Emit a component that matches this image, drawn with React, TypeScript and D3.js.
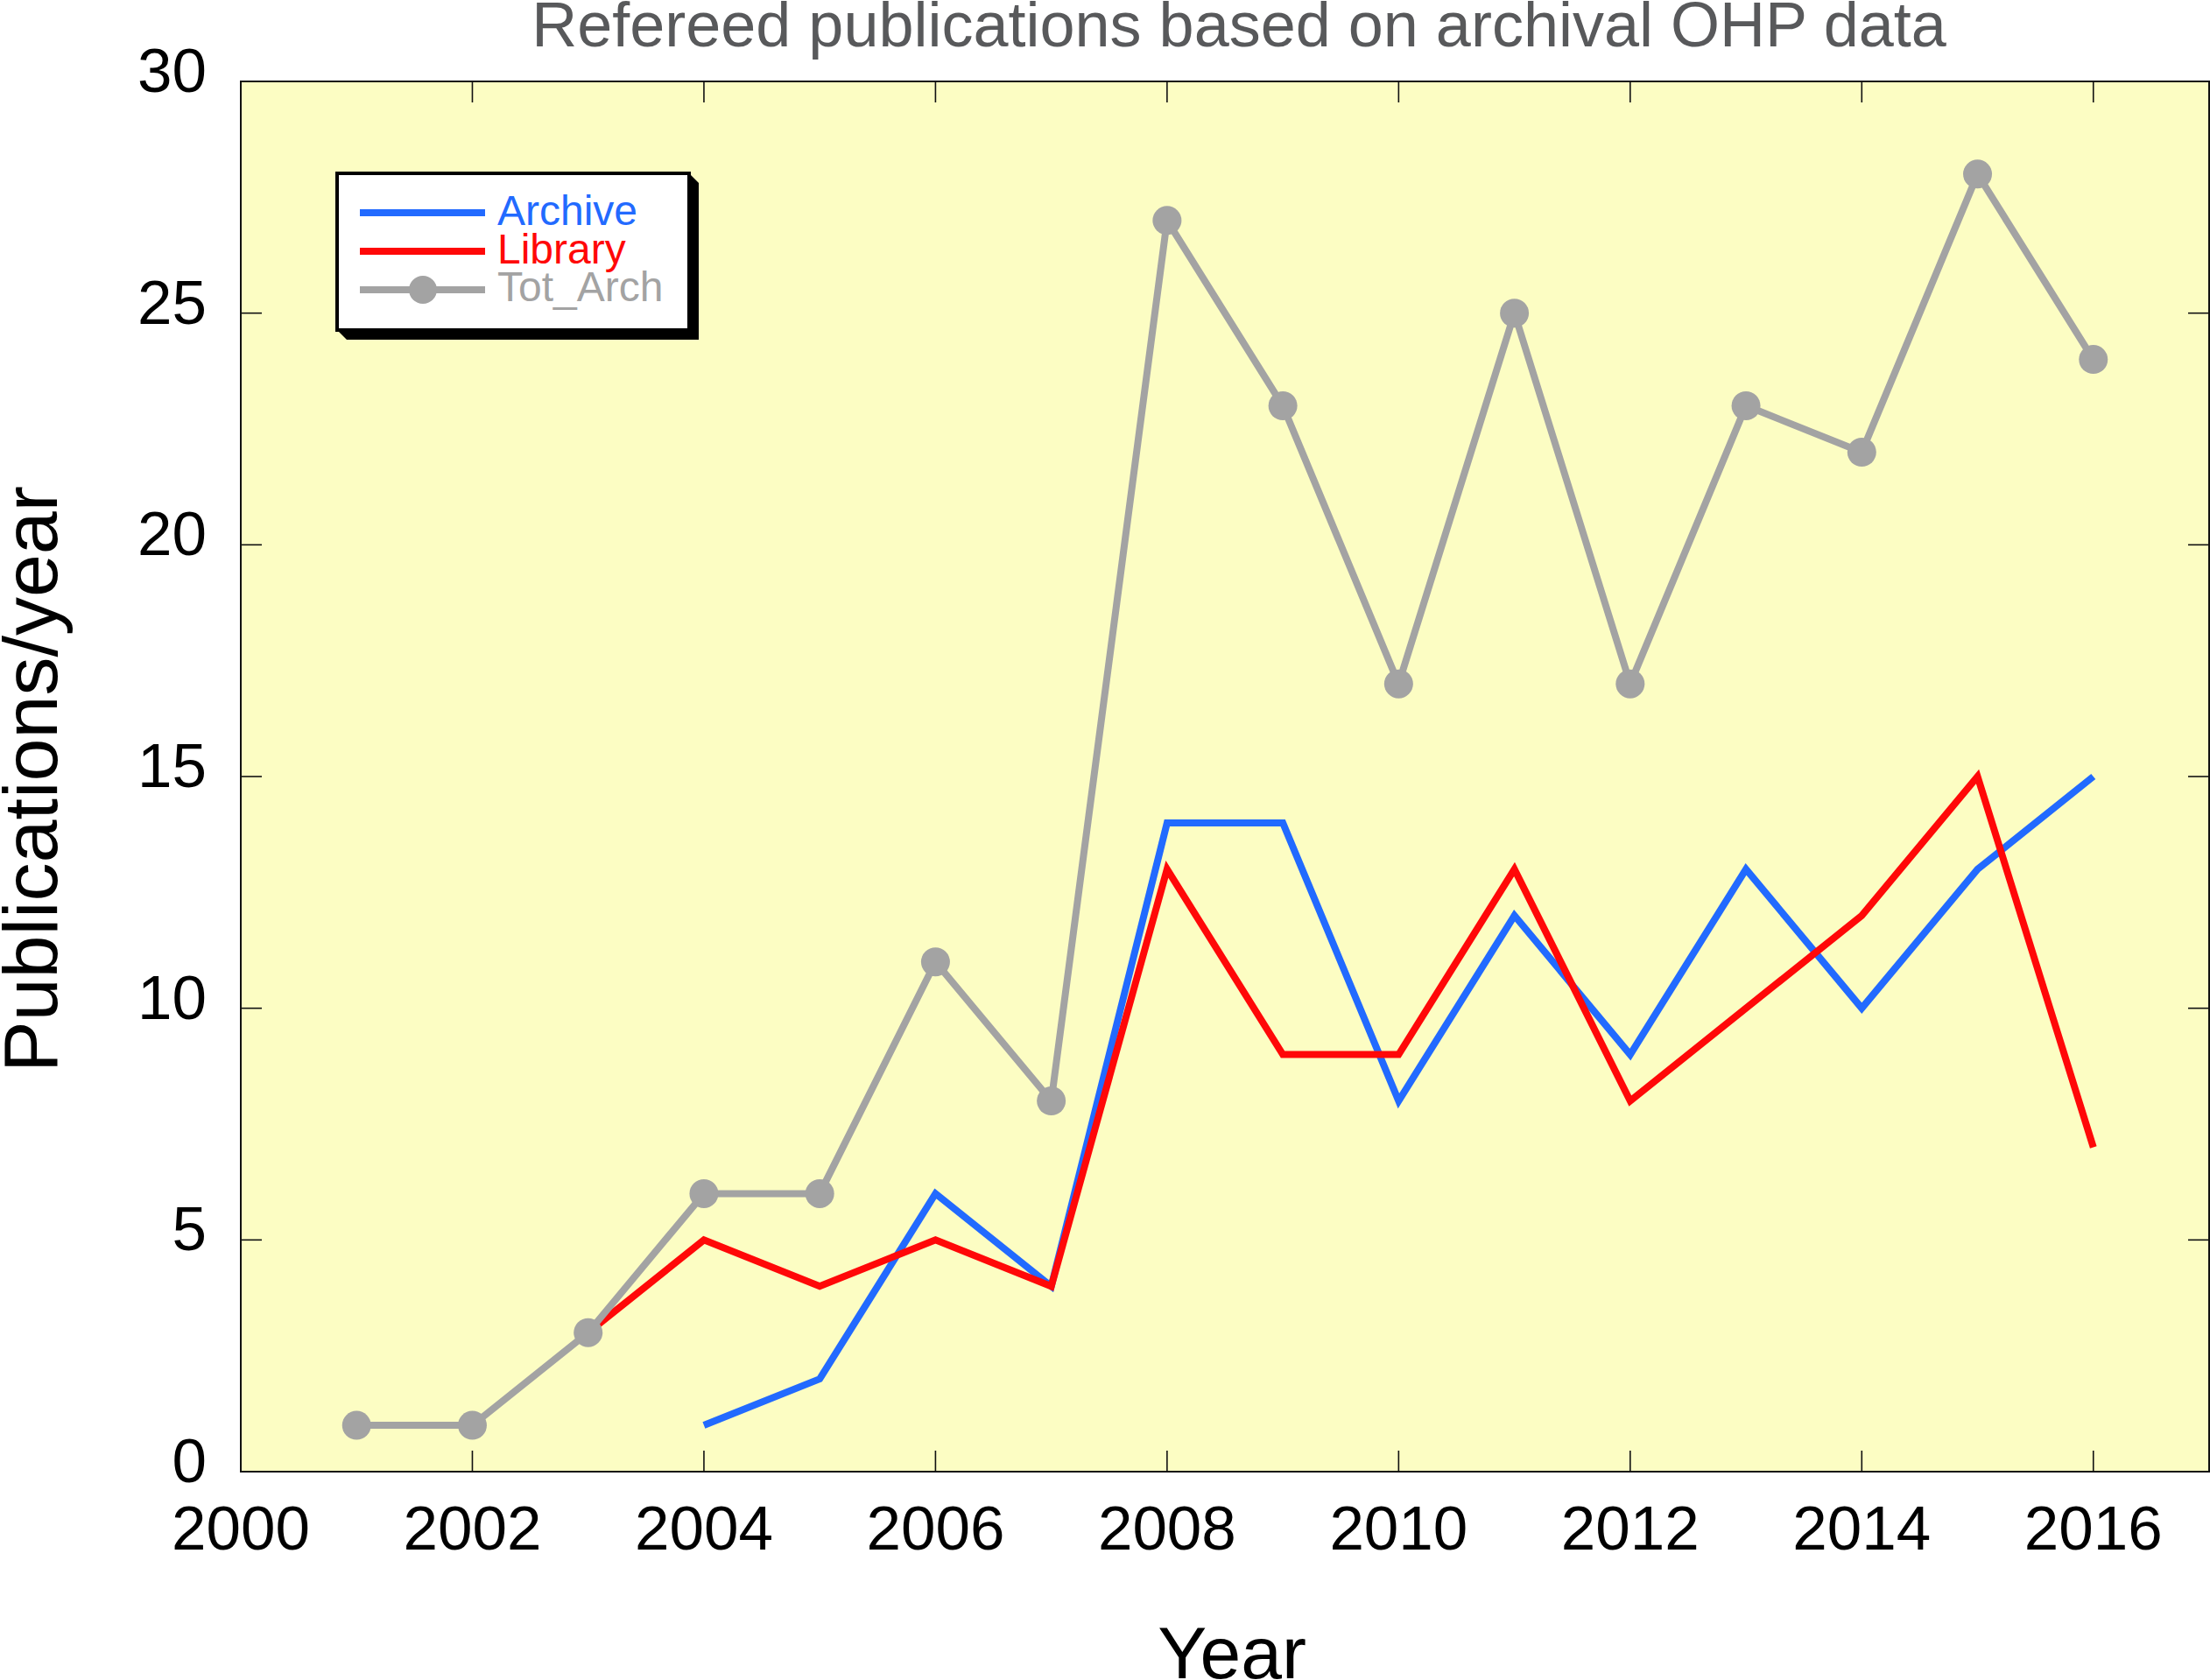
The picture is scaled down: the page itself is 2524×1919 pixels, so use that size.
import React from "react";
import * as d3 from "d3";

const years = [2001, 2002, 2003, 2004, 2005, 2006, 2007, 2008, 2009, 2010, 2011, 2012, 2013, 2014, 2015, 2016];
const archiveYears = [2004, 2005, 2006, 2007, 2008, 2009, 2010, 2011, 2012, 2013, 2014, 2015, 2016];
const archiveValues = [1, 2, 6, 4, 14, 14, 8, 12, 9, 13, 10, 13, 15];
const libraryYears = [2003, 2004, 2005, 2006, 2007, 2008, 2009, 2010, 2011, 2012, 2013, 2014, 2015, 2016];
const libraryValues = [3, 5, 4, 5, 4, 13, 9, 9, 13, 8, 10, 12, 15, 7];
const totArchValues = [1, 1, 3, 6, 6, 11, 8, 27, 23, 17, 25, 17, 23, 22, 28, 24];
const xTicks = [2000, 2002, 2004, 2006, 2008, 2010, 2012, 2014, 2016];
const yTicks = [0, 5, 10, 15, 20, 25, 30];
const seriesNames = ["Archive", "Library", "Tot_Arch"];

const W = 2524;
const H = 1919;
const L = 275, R = 2523, T = 93, B = 1681;
const BLUE = "#226aff";
const RED = "#ff0808";
const GRAY = "#a3a3a3";
const FONT = "'Liberation Sans', Arial, Helvetica, sans-serif";

export default function App() {
  const x = d3.scaleLinear().domain([2000, 2017]).range([L, R]);
  const y = d3.scaleLinear().domain([0, 30]).range([B, T]);
  const line = d3.line<[number, number]>().x((d) => x(d[0])).y((d) => y(d[1]));

  const archivePts = archiveYears.map((yr, i) => [yr, archiveValues[i]] as [number, number]);
  const libraryPts = libraryYears.map((yr, i) => [yr, libraryValues[i]] as [number, number]);
  const totPts = years.map((yr, i) => [yr, totArchValues[i]] as [number, number]);

  const tickLen = 24;
  const lw = 8;
  // legend geometry
  const lgL = 385, lgT = 198, lgR = 787, lgB = 377, sh = 11;
  const legendRows = [
    { name: seriesNames[0], color: BLUE, ly: 243, ty: 257, marker: false },
    { name: seriesNames[1], color: RED, ly: 287, ty: 301, marker: false },
    { name: seriesNames[2], color: GRAY, ly: 331, ty: 344, marker: true },
  ];

  return (
    <svg width={W} height={H} style={{ position: "absolute", left: 0, top: 0, background: "#fff" }} fontFamily={FONT}>
      <rect x={L} y={T} width={R - L} height={B - T} fill="#fcfdc3" />
      {/* ticks */}
      {xTicks.map((t) => (
        <g key={"xt" + t}>
          <line x1={x(t)} x2={x(t)} y1={B} y2={B - tickLen} stroke="#111" strokeWidth={1.6} />
          <line x1={x(t)} x2={x(t)} y1={T} y2={T + tickLen} stroke="#111" strokeWidth={1.6} />
          <text x={x(t)} y={1770} fontSize={71} textAnchor="middle" fill="#000">{t}</text>
        </g>
      ))}
      {yTicks.map((t) => (
        <g key={"yt" + t}>
          <line x1={L} x2={L + tickLen} y1={y(t)} y2={y(t)} stroke="#111" strokeWidth={1.6} />
          <line x1={R} x2={R - tickLen} y1={y(t)} y2={y(t)} stroke="#111" strokeWidth={1.6} />
          <text x={236} y={y(t) + 12} fontSize={71} textAnchor="end" fill="#000">{t}</text>
        </g>
      ))}
      {/* series */}
      <path d={line(archivePts) || ""} fill="none" stroke={BLUE} strokeWidth={lw} strokeLinejoin="miter" strokeLinecap="butt" />
      <path d={line(libraryPts) || ""} fill="none" stroke={RED} strokeWidth={lw} strokeLinejoin="miter" strokeLinecap="butt" />
      <path d={line(totPts) || ""} fill="none" stroke={GRAY} strokeWidth={lw} strokeLinejoin="miter" strokeLinecap="butt" />
      {totPts.map((p, i) => (
        <circle key={"m" + i} cx={x(p[0])} cy={y(p[1])} r={16.5} fill={GRAY} />
      ))}
      {/* frame */}
      <rect x={L} y={T} width={R - L} height={B - T} fill="none" stroke="#111" strokeWidth={2} />
      {/* legend */}
      <polygon
        points={`${lgR},${lgT} ${lgR + sh},${lgT + sh} ${lgR + sh},${lgB + sh} ${lgL + sh},${lgB + sh} ${lgL},${lgB}`}
        fill="#000"
      />
      <rect x={lgL} y={lgT} width={lgR - lgL} height={lgB - lgT} fill="#fff" stroke="#000" strokeWidth={4} />
      {legendRows.map((r) => (
        <g key={r.name}>
          <line x1={411} x2={554} y1={r.ly} y2={r.ly} stroke={r.color} strokeWidth={lw} />
          {r.marker && <circle cx={483} cy={r.ly} r={16} fill={r.color} />}
          <text x={568} y={r.ty} fontSize={48} fill={r.color}>{r.name}</text>
        </g>
      ))}
      {/* titles */}
      <text x={1415} y={53} fontSize={72} textAnchor="middle" fill="#58595b">
        Refereed publications based on archival OHP data
      </text>
      <text x={1407} y={1917} fontSize={84} textAnchor="middle" fill="#000">Year</text>
      <text transform={`translate(65,890) rotate(-90)`} fontSize={88} textAnchor="middle" fill="#000">
        Publications/year
      </text>
    </svg>
  );
}
